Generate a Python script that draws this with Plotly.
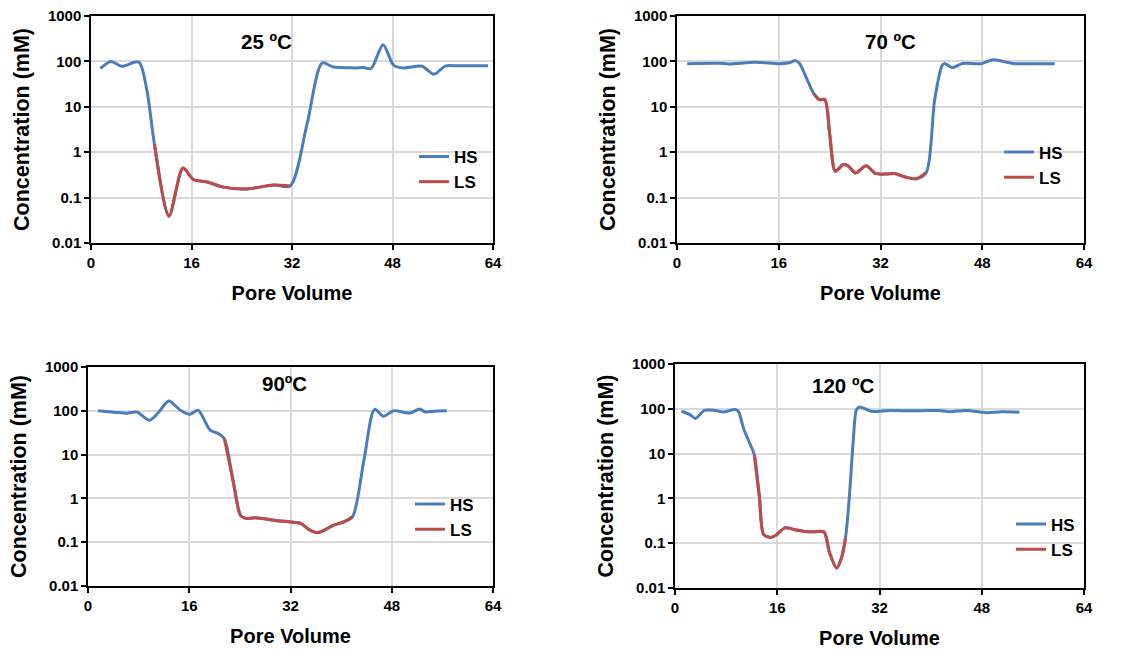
import plotly.graph_objects as go

# ---- data ----
pv_25 = [1.5, 3.2, 4.9, 7.6, 8.9, 10.1, 12.4, 14.65, 16.3, 18.5, 21.1, 24.8, 29.1, 31.7,
         34.4, 36.8, 38.6, 41.8, 43.4, 44.6, 46.5, 48.2, 49.8, 52.7, 54.6, 56.4, 58.3, 63.2]
conc_25 = [70, 100, 78, 97, 23, 1.5, 0.039, 0.45, 0.25, 0.22, 0.17, 0.155, 0.19, 0.18,
           4.2, 92, 75, 72, 73, 70, 233, 82, 72, 78, 52, 79, 80, 80]
ls_25 = (5, 13)

pv_70 = [1.6, 6.7, 8.2, 12.4, 16.1, 17.6, 18.6, 19.3, 20.3, 21.5, 22.4, 23.25, 24.0, 24.9,
         26.1, 26.9, 28.1, 29.75, 31.2, 32.9, 34.2, 36.05, 37.6, 39.2, 40.5, 41.7, 42.1,
         43.3, 44.9, 47.8, 49.7, 51.3, 53.1, 56.0, 59.4]
conc_70 = [89, 91, 88, 96, 89, 93, 104, 89, 45, 19.5, 14.4, 14.4, 2.6, 0.38, 0.53, 0.50,
           0.35, 0.50, 0.34, 0.33, 0.34, 0.28, 0.26, 0.36, 13.8, 82, 90, 73, 90, 89, 109,
           100, 89, 89, 89]
ls_70 = (9, 23)

pv_90 = [1.6, 4.1, 6.2, 7.7, 9.7, 11.2, 12.75, 14.6, 16.1, 17.4, 19.3, 20.65, 21.55, 23.0,
         24.1, 24.9, 26.4, 29.9, 32.0, 33.6, 34.9, 36.2, 37.25, 38.8, 40.4, 41.8, 43.6,
         45.3, 46.7, 48.3, 50.9, 52.4, 53.3, 54.6, 56.7]
conc_90 = [100, 93, 88, 94, 61, 94, 168, 103, 83, 103, 36, 30, 23, 2.2, 0.41, 0.35, 0.36,
           0.31, 0.29, 0.27, 0.195, 0.165, 0.185, 0.245, 0.29, 0.38, 7.4, 108, 75, 100, 89,
           110, 94, 98, 100]
ls_90 = (12, 25)

pv_120 = [1.0, 2.35, 3.2, 4.6, 6.25, 7.55, 9.4, 9.9, 10.8, 11.7, 12.4, 13.2, 13.9, 15.1,
          15.9, 17.2, 18.75, 20.6, 21.9, 23.3, 24.2, 25.3, 26.05, 26.7, 27.25, 27.9, 28.4,
          28.9, 30.7, 33.6, 38.3, 41.2, 43.0, 45.6, 48.7, 51.1, 53.9]
conc_120 = [88, 74, 61, 92, 92, 85, 96, 88, 34, 17, 9.5, 1.1, 0.155, 0.135, 0.155, 0.22,
            0.2, 0.18, 0.18, 0.18, 0.06, 0.028, 0.047, 0.137, 0.94, 20, 95, 110, 88, 92,
            90, 92, 86, 92, 82, 86, 84]
ls_120 = (10, 23)

titles = ["25 ºC", "70 ºC", "90ºC", "120 ºC"]
title_pos = [(28, 2.43), (33.5, 2.43), (31.1, 2.63), (26.3, 2.51)]
x_ticks = [0, 16, 32, 48, 64]
y_ticks = [0.01, 0.1, 1, 10, 100, 1000]
y_ticktext = ["0.01", "0.1", "1", "10", "100", "1000"]
series_names = ["HS", "LS"]

W, H = 1146, 652
# plot-area pixel boxes (left, right, top, bottom)
boxes = [(91, 493, 16, 243), (677, 1084, 16, 243), (88, 493, 367, 586), (675, 1084, 364, 588)]
legend_pos = [(414, 169.5), (999, 165), (410, 517), (1011, 537)]

BLUE = "#4A7EBB"
RED = "#BE4B48"
FONT = "Liberation Sans, Arial, sans-serif"

panels = [(pv_25, conc_25, ls_25), (pv_70, conc_70, ls_70),
          (pv_90, conc_90, ls_90), (pv_120, conc_120, ls_120)]

fig = go.Figure()
layout = dict(width=W, height=H, margin=dict(l=0, r=0, t=0, b=0, autoexpand=False),
              paper_bgcolor="white", plot_bgcolor="white", showlegend=True,
              font=dict(family=FONT, color="black"))
annotations = []
for i, (pv, conc, (a, b)) in enumerate(panels):
    n = i + 1
    xa = "x" if n == 1 else f"x{n}"
    ya = "y" if n == 1 else f"y{n}"
    lg = "legend" if n == 1 else f"legend{n}"
    fig.add_trace(go.Scatter(x=pv, y=conc, mode="lines", name=series_names[0],
                             line=dict(color=BLUE, width=3, shape="spline", smoothing=0.8),
                             xaxis=xa, yaxis=ya, legend=lg))
    fig.add_trace(go.Scatter(x=pv[a:b + 1], y=conc[a:b + 1], mode="lines", name=series_names[1],
                             line=dict(color=RED, width=3, shape="spline", smoothing=0.8),
                             xaxis=xa, yaxis=ya, legend=lg))
    l, r, t, btm = boxes[i]
    xkey = "xaxis" if n == 1 else f"xaxis{n}"
    ykey = "yaxis" if n == 1 else f"yaxis{n}"
    layout[xkey] = dict(domain=[l / W, r / W], anchor=ya, range=[0, 64], automargin=False,
                        tickvals=x_ticks, ticks="outside", ticklen=5, tickwidth=1.5,
                        tickcolor="black", showline=True, linecolor="black", linewidth=1.5,
                        mirror=True, showgrid=True, gridcolor="#D9D9D9", gridwidth=1.5,
                        zeroline=False,
                        tickfont=dict(family=FONT, size=15, weight="bold", color="black"),
                        title=dict(text="Pore Volume", standoff=16,
                                   font=dict(family=FONT, size=20, weight="bold", color="black")))
    layout[ykey] = dict(domain=[1 - btm / H, 1 - t / H], anchor=xa, type="log", range=[-2, 3],
                        automargin=False,
                        tickvals=y_ticks, ticktext=y_ticktext, ticks="outside", ticklen=5,
                        tickwidth=1.5, tickcolor="black", showline=True, linecolor="black",
                        linewidth=1.5, mirror=True, showgrid=True, gridcolor="#D9D9D9",
                        gridwidth=1.5, zeroline=False,
                        tickfont=dict(family=FONT, size=15, weight="bold", color="black"),
                        title=dict(text="Concentration (mM)", standoff=12,
                                   font=dict(family=FONT, size=21.5, weight="bold", color="black")))
    lx, ly = legend_pos[i]
    layout[lg] = dict(x=lx / W, y=1 - ly / H, xanchor="left", yanchor="middle",
                      bgcolor="rgba(0,0,0,0)", tracegroupgap=0,
                      font=dict(family=FONT, size=17, weight="bold", color="black"))
    tx, ty = title_pos[i]
    annotations.append(dict(text=titles[i], x=tx, y=ty, xref=xa, yref=ya, showarrow=False,
                            font=dict(family=FONT, size=20.5, weight="bold", color="black")))
layout["annotations"] = annotations
fig.update_layout(**layout)
fig.write_html("out.html", config={"displayModeBar": False},
               post_script="document.body.style.margin='0';")
